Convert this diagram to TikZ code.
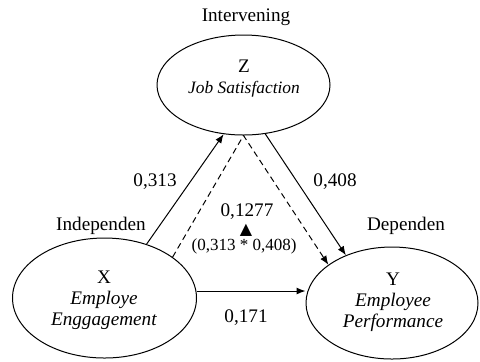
\documentclass[tikz,border=0pt]{standalone}
\usepackage{fontspec}
\setmainfont{Liberation Serif}
\newfontfamily\symfont{DejaVu Sans}
\usetikzlibrary{shapes.geometric,arrows.meta}
\begin{document}
\begin{tikzpicture}[x=0.5pt,y=-0.5pt,
  font=\fontsize{9.6}{10.5}\selectfont,
  oval/.style={draw, ellipse, line width=0.5pt, inner sep=0pt},
  lbl/.style={inner sep=0pt, align=center},
  conn/.style={line width=0.5pt, -{Latex[length=4.5pt,width=3.5pt]}},
  dconn/.style={conn, dash pattern=on 3pt off 2pt}]
\useasboundingbox (0,0) rectangle (480,361);
% ellipses
\node[oval, minimum width=86.5pt, minimum height=50pt] (Z) at (243.5,85) {};
\node[oval, minimum width=92pt, minimum height=60pt] (X) at (104.5,298) {};
\node[oval, minimum width=86pt, minimum height=56pt] (Y) at (392,303) {};
% texts
\node[lbl] (Zt) at (244,78.5) {Z\\{\fontsize{8.7}{10.5}\selectfont\textit{Job Satisfaction}}};
\node[lbl] (Xt) at (104,300) {X\\\textit{Employe}\\\textit{Enggagement}};
\node[lbl] (Yt) at (393,302) {Y\\\textit{Employee}\\\textit{Performance}};
\node[lbl] (int) at (246,17) {Intervening};
\node[lbl] (ind) at (101,226) {Independen};
\node[lbl] (dep) at (406,226) {Dependen};
\node[lbl] (a) at (155,182) {0,313};
\node[lbl] (b) at (335,182) {0,408};
\node[lbl] (ab) at (247,212) {0,1277};
\node[lbl, font=\symfont\fontsize{8}{9}\selectfont] (tri) at (246,230) {▲};
\node[lbl, font=\fontsize{8.5}{10}\selectfont] (abf) at (244,246) {(0,313 * 0,408)};
\node[lbl] (c) at (246,318) {0,171};
% connectors
\draw[conn] (X.52) -- (Z.248);
\draw[conn] (Z.294) -- (Y.134);
\draw[dconn] (X.31) -- (Z.south) -- (Y.149);
\draw[conn] (X.east |- 0,291) -- (Y.west |- 0,291);
\end{tikzpicture}
\end{document}
